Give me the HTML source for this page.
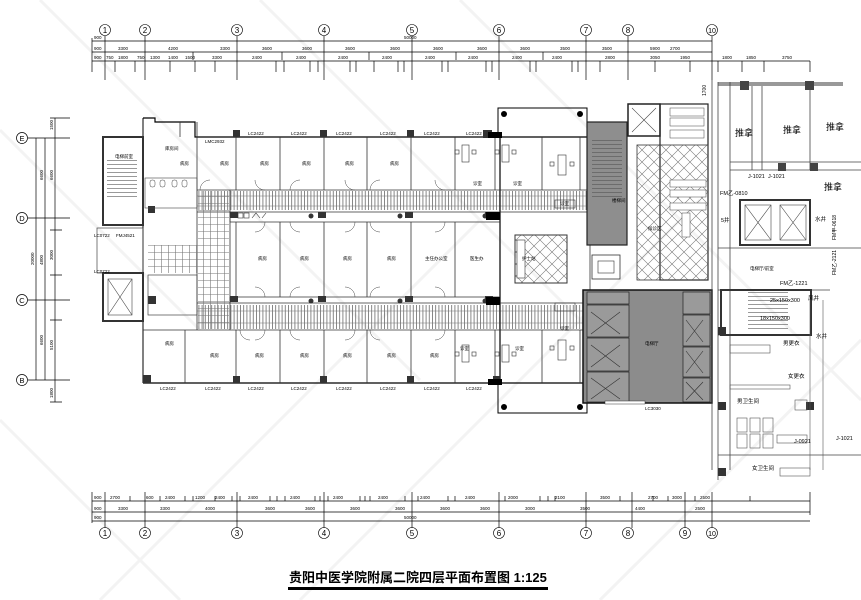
<!DOCTYPE html>
<html><head><meta charset="utf-8"><style>
html,body{margin:0;padding:0;background:#fff;}
svg{display:block;}
text{font-family:"Liberation Sans","Noto Sans CJK SC",sans-serif;}
</style></head><body>
<svg width="861" height="600" viewBox="0 0 861 600" xmlns="http://www.w3.org/2000/svg">
<defs>
<pattern id="cor" width="3.2" height="30" patternUnits="userSpaceOnUse"><line x1="0.5" y1="0" x2="0.5" y2="30" stroke="#555" stroke-width="0.7"/></pattern>
<pattern id="grid" width="7" height="7" patternUnits="userSpaceOnUse"><path d="M0 0.5H7M0.5 0V7" stroke="#777" stroke-width="0.6" fill="none"/></pattern>
<pattern id="dia" width="12" height="12" patternUnits="userSpaceOnUse"><path d="M0 0L12 12M12 0L0 12" stroke="#777" stroke-width="0.6" fill="none"/></pattern>
<pattern id="stair" width="10" height="4" patternUnits="userSpaceOnUse"><line x1="0" y1="0.5" x2="10" y2="0.5" stroke="#555" stroke-width="0.6"/></pattern>
</defs>

<g stroke="#f3f3f3" stroke-width="3" fill="none">
<path d="M0 130L200 330M40 0L420 380M260 0L620 360M460 0L861 400M0 420L180 600M300 600L700 200M600 600L861 340M100 600L480 220"/>
</g>

<!-- ===== top dimension lines ===== -->
<g stroke="#000" stroke-width="0.7" fill="none">
<line x1="92" y1="41" x2="712" y2="41"/>
<line x1="92" y1="52" x2="712" y2="52"/>
<line x1="92" y1="61" x2="712" y2="61"/>
<line x1="712" y1="61" x2="810" y2="61"/>
<path d="M105 36V80M145 36V80M237 36V80M324 36V80M412 36V80M499 36V80M586 36V80M628 36V80M712 36V80M92 38V72"/>
<path d="M115 61V72M135 61V72M170 61V72M195 61V72M215 61V72M276 61V72M284 61V72M310 61V72M318 61V72M350 61V72M356 61V72M374 61V72M398 61V72M404 61V72M442 61V72M448 61V72M486 61V72M492 61V72M530 61V72M536 61V72M572 61V72M578 61V72M600 61V72M655 61V72M690 61V72M718 61V72M742 61V72M764 61V72M810 61V72"/>
<path d="M193 52V60M282 52V60M369 52V60M456 52V60M543 52V60"/>
</g>
<g font-size="4.5" fill="#000">
<text x="94" y="39">900</text><text x="404" y="39">50000</text>
<text x="94" y="50">900</text><text x="118" y="50">3300</text><text x="168" y="50">4200</text><text x="220" y="50">3300</text><text x="262" y="50">3600</text><text x="302" y="50">3600</text><text x="345" y="50">3600</text><text x="390" y="50">3600</text><text x="433" y="50">3600</text><text x="477" y="50">3600</text><text x="520" y="50">3600</text><text x="560" y="50">3500</text><text x="602" y="50">3500</text><text x="650" y="50">5900</text><text x="670" y="50">2700</text>
<text x="94" y="59">900</text><text x="106" y="59">750</text><text x="118" y="59">1800</text><text x="137" y="59">750</text><text x="150" y="59">1300</text><text x="168" y="59">1400</text><text x="185" y="59">1500</text><text x="212" y="59">3300</text><text x="252" y="59">2400</text><text x="296" y="59">2400</text><text x="338" y="59">2400</text><text x="382" y="59">2400</text><text x="425" y="59">2400</text><text x="468" y="59">2400</text><text x="512" y="59">2400</text><text x="552" y="59">2400</text><text x="605" y="59">2800</text><text x="650" y="59">3050</text><text x="680" y="59">1950</text>
<text x="722" y="59">1800</text><text x="746" y="59">1850</text><text x="782" y="59">3750</text>
</g>
<g fill="none" stroke="#000" stroke-width="0.6"><circle cx="105" cy="30" r="5.5"/><circle cx="145" cy="30" r="5.5"/><circle cx="237" cy="30" r="5.5"/><circle cx="324" cy="30" r="5.5"/><circle cx="412" cy="30" r="5.5"/><circle cx="499" cy="30" r="5.5"/><circle cx="586" cy="30" r="5.5"/><circle cx="628" cy="30" r="5.5"/><circle cx="712" cy="30" r="5.5"/></g>
<g font-size="8" fill="#000" text-anchor="middle">
<text x="105" y="33">1</text><text x="145" y="33">2</text><text x="237" y="33">3</text><text x="324" y="33">4</text><text x="412" y="33">5</text><text x="499" y="33">6</text><text x="586" y="33">7</text><text x="628" y="33">8</text><text x="712" y="33" font-size="7">10</text>
</g>

<!-- ===== left dimension ===== -->
<g stroke="#000" stroke-width="0.7" fill="none">
<line x1="36" y1="138" x2="36" y2="380"/><line x1="45" y1="138" x2="45" y2="380"/><line x1="55" y1="118" x2="55" y2="402"/>
<path d="M28 138H70M28 218H70M28 300H70M28 380H70M50 118H70M50 230H62M50 275H62M50 320H62M50 402H62"/>
<circle cx="22" cy="138" r="5.5"/><circle cx="22" cy="218" r="5.5"/><circle cx="22" cy="300" r="5.5"/><circle cx="22" cy="380" r="5.5"/>
</g>
<g font-size="7.5" text-anchor="middle"><text x="22" y="141">E</text><text x="22" y="221">D</text><text x="22" y="303">C</text><text x="22" y="383">B</text></g>
<g font-size="4.5">
<text transform="translate(43,180) rotate(-90)">6600</text><text transform="translate(53,180) rotate(-90)">6600</text>
<text transform="translate(34,265) rotate(-90)">20000</text><text transform="translate(43,265) rotate(-90)">4800</text><text transform="translate(53,260) rotate(-90)">3000</text>
<text transform="translate(43,345) rotate(-90)">6600</text><text transform="translate(53,350) rotate(-90)">5100</text>
<text transform="translate(53,130) rotate(-90)">1500</text><text transform="translate(53,398) rotate(-90)">1800</text>
</g>

<!-- ===== main building ===== -->
<rect x="498" y="108" width="89" height="29" fill="none" stroke="#000" stroke-width="1"/>
<rect x="498" y="383" width="89" height="30" fill="none" stroke="#000" stroke-width="1"/>
<g fill="#000"><circle cx="504" cy="114" r="3"/><circle cx="580" cy="114" r="3"/><circle cx="504" cy="407" r="3"/><circle cx="580" cy="407" r="3"/></g>

<g fill="none" stroke="#000">
<path d="M143 118H155V122H195V137H590" stroke-width="1.2"/>
<path d="M143 383H590" stroke-width="1.2"/>
<path d="M143 118V383" stroke-width="1"/>
</g>
<g fill="none" stroke="#333" stroke-width="0.8">
<line x1="197" y1="190" x2="590" y2="190"/>
<line x1="197" y1="212" x2="590" y2="212"/>
<line x1="230" y1="222" x2="500" y2="222"/>
<line x1="230" y1="297" x2="500" y2="297"/>
<line x1="197" y1="303" x2="590" y2="303"/>
<line x1="143" y1="330" x2="590" y2="330"/>
<path d="M197 137V190M236 137V190M280 137V190M324 137V190M367 137V190M411 137V190M455 137V190M495 137V190M542 137V190M580 137V190"/>
<path d="M236 222V297M280 222V297M324 222V297M367 222V297M411 222V297M455 222V297M500 222V297"/>
<path d="M185 330V383M236 330V383M280 330V383M324 330V383M367 330V383M411 330V383M455 330V383M495 330V383M542 330V383M580 330V383"/>
<path d="M230 190V330M197 190V330"/>
<path d="M197 122V137M180 122V137"/>
</g>
<rect x="197" y="191" width="393" height="19" fill="url(#cor)"/>
<line x1="197" y1="196" x2="590" y2="196" stroke="#777" stroke-width="0.5"/><line x1="197" y1="206" x2="590" y2="206" stroke="#777" stroke-width="0.5"/>
<rect x="197" y="305" width="393" height="24" fill="url(#cor)"/>
<line x1="197" y1="311" x2="590" y2="311" stroke="#777" stroke-width="0.5"/><line x1="197" y1="323" x2="590" y2="323" stroke="#777" stroke-width="0.5"/>
<rect x="198" y="191" width="31" height="138" fill="url(#grid)"/>
<rect x="148" y="245" width="50" height="28" fill="url(#grid)"/>
<g fill="none" stroke="#333" stroke-width="0.6">
<path d="M230 212V222M230 297V303M500 212V222M500 297V303"/>
<rect x="238" y="213" width="5" height="5"/><rect x="244" y="213" width="5" height="5"/><path d="M252 218l4 -5l4 5M262 218l4-5"/>
</g>
<g fill="#333">
<rect x="230" y="212" width="8" height="6"/><rect x="318" y="212" width="8" height="6"/><rect x="405" y="212" width="8" height="6"/><rect x="485" y="212" width="8" height="6"/>
<rect x="230" y="296" width="8" height="6"/><rect x="318" y="296" width="8" height="6"/><rect x="405" y="296" width="8" height="6"/><rect x="485" y="296" width="8" height="6"/>
<circle cx="311" cy="216" r="2.5"/><circle cx="400" cy="216" r="2.5"/><circle cx="485" cy="216" r="2.5"/><circle cx="311" cy="301" r="2.5"/><circle cx="400" cy="301" r="2.5"/><circle cx="485" cy="301" r="2.5"/>
<rect x="233" y="130" width="7" height="7"/><rect x="320" y="130" width="7" height="7"/><rect x="407" y="130" width="7" height="7"/><rect x="483" y="130" width="9" height="8"/>
<rect x="143" y="375" width="8" height="8"/><rect x="233" y="376" width="7" height="7"/><rect x="320" y="376" width="7" height="7"/><rect x="407" y="376" width="7" height="7"/><rect x="493" y="376" width="7" height="8"/>
<rect x="148" y="206" width="7" height="7"/><rect x="148" y="296" width="8" height="8"/>
</g>
<g fill="none" stroke="#444" stroke-width="0.5">
<path d="M200 190a10 10 0 0 1 10 -10M265 190a10 10 0 0 1 -10 -10M290 190a10 10 0 0 1 10 -10M355 190a10 10 0 0 1 -10 -10M370 190a10 10 0 0 1 10 -10M445 190a10 10 0 0 1 -10 -10"/>
<path d="M265 222a10 10 0 0 1 -10 10M290 222a10 10 0 0 0 10 10M355 222a10 10 0 0 1 -10 10M370 222a10 10 0 0 0 10 10M445 222a10 10 0 0 1 -10 10"/>
<path d="M265 297a10 10 0 0 0 -10 -10M290 297a10 10 0 0 1 10 -10M355 297a10 10 0 0 0 -10 -10M370 297a10 10 0 0 1 10 -10M445 297a10 10 0 0 0 -10 -10"/>
<path d="M240 330a10 10 0 0 0 10 10M265 330a10 10 0 0 1 -10 10M290 330a10 10 0 0 0 10 10M355 330a10 10 0 0 1 -10 10M370 330a10 10 0 0 0 10 10M445 330a10 10 0 0 1 -10 10"/>
</g>
<g fill="none" stroke="#333" stroke-width="0.6">
<rect x="462" y="145" width="7" height="17"/><rect x="502" y="145" width="7" height="17"/><rect x="558" y="155" width="8" height="20"/>
<rect x="462" y="345" width="7" height="17"/><rect x="502" y="345" width="7" height="17"/><rect x="558" y="340" width="8" height="20"/>
<rect x="455" y="150" width="4" height="4"/><rect x="472" y="150" width="4" height="4"/><rect x="495" y="150" width="4" height="4"/><rect x="512" y="150" width="4" height="4"/>
<rect x="455" y="352" width="4" height="4"/><rect x="472" y="352" width="4" height="4"/><rect x="495" y="352" width="4" height="4"/><rect x="512" y="352" width="4" height="4"/>
<rect x="550" y="162" width="4" height="4"/><rect x="570" y="162" width="4" height="4"/><rect x="550" y="346" width="4" height="4"/><rect x="570" y="346" width="4" height="4"/>
<rect x="555" y="200" width="20" height="8"/><rect x="555" y="303" width="20" height="8"/>
</g>
<rect x="515" y="235" width="52" height="48" fill="url(#dia)" stroke="#333" stroke-width="1"/>
<rect x="517" y="240" width="8" height="38" fill="#fff" stroke="#333" stroke-width="0.6"/>
<rect x="592" y="255" width="28" height="24" fill="none" stroke="#333" stroke-width="0.8"/>
<rect x="598" y="261" width="16" height="12" fill="none" stroke="#333" stroke-width="0.6"/>
<line x1="500" y1="137" x2="500" y2="383" stroke="#333" stroke-width="1.5"/>
<line x1="590" y1="137" x2="590" y2="383" stroke="#333" stroke-width="0.8"/>
<g fill="#000"><rect x="488" y="132" width="14" height="6"/><rect x="486" y="212" width="14" height="8"/><rect x="486" y="297" width="14" height="8"/><rect x="488" y="379" width="14" height="6"/></g>

<rect x="103" y="137" width="40" height="88" fill="none" stroke="#333" stroke-width="2"/>
<rect x="107" y="160" width="30" height="40" fill="url(#stair)"/>
<rect x="97" y="228" width="46" height="45" fill="none" stroke="#444" stroke-width="0.7"/>
<rect x="103" y="273" width="40" height="48" fill="none" stroke="#333" stroke-width="2"/>
<rect x="108" y="279" width="24" height="36" fill="none" stroke="#444" stroke-width="0.6"/>
<path d="M108 279L132 315M132 279L108 315" stroke="#444" stroke-width="0.6"/>
<rect x="145" y="178" width="52" height="30" fill="none" stroke="#444" stroke-width="0.6"/>
<g fill="none" stroke="#444" stroke-width="0.5"><rect x="150" y="180" width="5" height="7" rx="2"/><rect x="160" y="180" width="5" height="7" rx="2"/><rect x="172" y="180" width="5" height="7" rx="2"/><rect x="182" y="180" width="5" height="7" rx="2"/></g>
<rect x="148" y="275" width="49" height="40" fill="none" stroke="#444" stroke-width="0.7"/>

<rect x="587" y="122" width="40" height="123" fill="#8e8e8e" stroke="#222" stroke-width="1.2"/>
<rect x="592" y="140" width="30" height="60" fill="url(#stair)"/>
<rect x="628" y="104" width="32" height="32" fill="none" stroke="#222" stroke-width="1.5"/>
<path d="M632 108L656 132M656 108L632 132" stroke="#444" stroke-width="0.6"/>
<rect x="660" y="104" width="48" height="176" fill="none" stroke="#222" stroke-width="1.2"/>
<rect x="637" y="145" width="71" height="135" fill="url(#dia)" stroke="#333" stroke-width="0.8"/>
<g fill="#fff" stroke="#444" stroke-width="0.5">
<rect x="670" y="108" width="34" height="8"/><rect x="670" y="118" width="34" height="8"/><rect x="670" y="130" width="34" height="8"/>
<rect x="670" y="180" width="36" height="7"/><rect x="670" y="190" width="36" height="7"/><rect x="670" y="203" width="36" height="7"/>
<rect x="682" y="213" width="8" height="24"/>
</g>
<rect x="583" y="290" width="129" height="113" fill="#8a8a8a" stroke="#111" stroke-width="1.5"/>
<g fill="#9a9a9a" stroke="#222" stroke-width="0.7">
<rect x="587" y="292" width="42" height="12"/>
<rect x="587" y="305" width="42" height="32"/><rect x="587" y="338" width="42" height="33"/><rect x="587" y="372" width="42" height="30"/>
<rect x="683" y="292" width="27" height="22"/>
<rect x="683" y="315" width="27" height="31"/><rect x="683" y="347" width="27" height="30"/><rect x="683" y="378" width="27" height="24"/>
</g>
<g stroke="#333" stroke-width="0.6" fill="none">
<path d="M591 312L620 334M620 312L591 334M591 345L620 367M620 345L591 367M591 378L620 399M620 378L591 399"/>
<path d="M686 320L703 342M703 320L686 342M686 351L703 373M703 351L686 373M686 382L703 400M703 382L686 400"/>
</g>
<rect x="630" y="292" width="52" height="110" fill="#8c8c8c"/>
<rect x="605" y="401" width="40" height="3" fill="#fff" stroke="#333" stroke-width="0.5"/>

<rect x="718" y="82" width="125" height="4" fill="#999"/>
<g fill="none" stroke="#444" stroke-width="0.8">
<path d="M712 80V470M718 82V480M730 82V470"/>
<path d="M730 170H861M730 162H861M752 86V170M762 86V170M810 86V170"/>
<path d="M718 248H861M718 290H830M718 335H810M718 455H861"/>
</g>
<g fill="#444"><rect x="740" y="81" width="9" height="9"/><rect x="805" y="81" width="9" height="9"/><rect x="778" y="163" width="8" height="8"/><rect x="810" y="163" width="8" height="8"/></g>
<rect x="740" y="200" width="70" height="45" fill="none" stroke="#333" stroke-width="2"/>
<rect x="745" y="205" width="26" height="35" fill="none" stroke="#444" stroke-width="0.6"/><path d="M745 205L771 240M771 205L745 240" stroke="#444" stroke-width="0.6"/>
<rect x="780" y="205" width="26" height="35" fill="none" stroke="#444" stroke-width="0.6"/><path d="M780 205L806 240M806 205L780 240" stroke="#444" stroke-width="0.6"/>
<rect x="721" y="290" width="90" height="45" fill="none" stroke="#333" stroke-width="2"/>
<rect x="748" y="292" width="40" height="40" fill="url(#stair)"/>
<g fill="#333"><rect x="718" y="327" width="8" height="8"/><rect x="718" y="402" width="8" height="8"/><rect x="806" y="402" width="8" height="8"/><rect x="718" y="468" width="8" height="8"/></g>
<g fill="none" stroke="#555" stroke-width="0.6">
<rect x="730" y="345" width="40" height="8"/><rect x="730" y="385" width="60" height="4"/>
<rect x="737" y="418" width="10" height="14"/><rect x="750" y="418" width="10" height="14"/><rect x="763" y="418" width="10" height="14"/>
<rect x="737" y="434" width="10" height="14"/><rect x="750" y="434" width="10" height="14"/><rect x="763" y="434" width="10" height="14"/>
<rect x="777" y="435" width="30" height="8"/><rect x="780" y="468" width="30" height="8"/><rect x="795" y="400" width="12" height="10"/>
<line x1="810" y1="300" x2="810" y2="470"/><line x1="823" y1="300" x2="823" y2="470"/>
</g>
<g font-size="9" fill="#000">
<text x="735" y="136">推拿</text><text x="783" y="133">推拿</text><text x="826" y="130">推拿</text><text x="824" y="190">推拿</text>
</g>
<g font-size="5.5" fill="#000">
<text x="748" y="178">J-1021</text><text x="768" y="178">J-1021</text><text x="720" y="195">FM乙-0810</text>
<text x="721" y="222">5井</text><text x="815" y="221">水井</text><text x="780" y="285">FM乙-1221</text>
<text x="770" y="302">25x150x300</text><text x="760" y="320">18x150x300</text>
<text x="808" y="300">风井</text><text x="816" y="338">水井</text>
<text x="783" y="345">男更衣</text><text x="788" y="378">女更衣</text>
<text x="737" y="403">男卫生间</text><text x="752" y="470">女卫生间</text><text x="794" y="443">J-0921</text><text x="836" y="440">J-1021</text>
</g>
<g font-size="5" fill="#000">
<text transform="translate(836,240) rotate(-90)">FM甲-0618</text><text transform="translate(836,275) rotate(-90)">FM乙-2121</text>
<text transform="translate(706,96) rotate(-90)">1700</text>
</g>

<g font-size="4.5" fill="#000">
<text x="248" y="135">LC2422</text><text x="291" y="135">LC2422</text><text x="336" y="135">LC2422</text><text x="380" y="135">LC2422</text><text x="424" y="135">LC2422</text><text x="466" y="135">LC2422</text>
<text x="160" y="390">LC2422</text><text x="205" y="390">LC2422</text><text x="248" y="390">LC2422</text><text x="291" y="390">LC2422</text><text x="336" y="390">LC2422</text><text x="380" y="390">LC2422</text><text x="424" y="390">LC2422</text><text x="466" y="390">LC2422</text>
<text x="645" y="410">LC3030</text><text x="205" y="143">LMC2932</text>
<text x="94" y="237">LC0722</text><text x="94" y="273">LC0722</text><text x="116" y="237">FMJ4521</text>
<text x="115" y="158">电梯前室</text><text x="165" y="150">库房间</text>
<text x="612" y="202">楼梯间</text><text x="648" y="230">候诊区</text><text x="522" y="260">护士站</text><text x="645" y="345">电梯厅</text>
<text x="750" y="270">电梯厅/前室</text>
</g>
<g font-size="4.5" fill="#000">
<text x="180" y="165">病房</text><text x="220" y="165">病房</text><text x="260" y="165">病房</text><text x="302" y="165">病房</text><text x="345" y="165">病房</text><text x="390" y="165">病房</text>
<text x="258" y="260">病房</text><text x="300" y="260">病房</text><text x="343" y="260">病房</text><text x="387" y="260">病房</text><text x="425" y="260">主任办公室</text><text x="470" y="260">医生办</text>
<text x="165" y="345">病房</text><text x="210" y="357">病房</text><text x="255" y="357">病房</text><text x="300" y="357">病房</text><text x="343" y="357">病房</text><text x="387" y="357">病房</text><text x="430" y="357">病房</text>
<text x="473" y="185">诊室</text><text x="513" y="185">诊室</text><text x="560" y="205">诊室</text>
<text x="460" y="350">诊室</text><text x="515" y="350">诊室</text><text x="560" y="330">诊室</text>
</g>

<!-- ===== bottom dimensions ===== -->
<g stroke="#000" stroke-width="0.7" fill="none">
<line x1="92" y1="501" x2="810" y2="501"/><line x1="92" y1="512" x2="810" y2="512"/><line x1="92" y1="521" x2="810" y2="521"/>
<path d="M92 492V523M105 492V528M145 492V528M237 492V528M324 492V528M412 492V528M499 492V528M586 492V528M632 492V528M685 492V528M712 492V528M810 492V515"/>
<path d="M130 496V501M160 496V501M185 496V501M193 496V501M215 496V501M232 496V501M240 496V501M270 496V501M277 496V501M285 496V501M315 496V501M320 496V501M328 496V501M360 496V501M365 496V501M370 496V501M405 496V501M418 496V501M448 496V501M455 496V501M505 496V501M540 496V501M548 496V501M555 496V501M620 496V501M653 496V501M668 496V501M695 496V501M750 496V501"/>
</g>
<g font-size="4.5" fill="#000">
<text x="94" y="499">900</text><text x="110" y="499">2700</text><text x="146" y="499">600</text><text x="165" y="499">2400</text><text x="195" y="499">1200</text><text x="215" y="499">2400</text><text x="248" y="499">2400</text><text x="290" y="499">2400</text><text x="333" y="499">2400</text><text x="378" y="499">2400</text><text x="420" y="499">2400</text><text x="465" y="499">2400</text><text x="508" y="499">2000</text><text x="555" y="499">2100</text><text x="600" y="499">3500</text><text x="648" y="499">2700</text><text x="672" y="499">3000</text><text x="700" y="499">2500</text>
<text x="94" y="510">900</text><text x="118" y="510">3300</text><text x="160" y="510">3300</text><text x="205" y="510">4000</text><text x="265" y="510">3600</text><text x="305" y="510">3600</text><text x="350" y="510">3600</text><text x="395" y="510">3600</text><text x="440" y="510">3600</text><text x="480" y="510">3600</text><text x="525" y="510">3000</text><text x="580" y="510">3500</text><text x="635" y="510">4400</text><text x="695" y="510">2500</text>
<text x="94" y="519">900</text><text x="404" y="519">50000</text>
</g>
<g fill="none" stroke="#000" stroke-width="0.6">
<circle cx="105" cy="533" r="5.5"/><circle cx="145" cy="533" r="5.5"/><circle cx="237" cy="533" r="5.5"/><circle cx="324" cy="533" r="5.5"/><circle cx="412" cy="533" r="5.5"/><circle cx="499" cy="533" r="5.5"/><circle cx="586" cy="533" r="5.5"/><circle cx="628" cy="533" r="5.5"/><circle cx="685" cy="533" r="5.5"/><circle cx="712" cy="533" r="5.5"/>
</g>
<g font-size="8" fill="#000" text-anchor="middle">
<text x="105" y="536">1</text><text x="145" y="536">2</text><text x="237" y="536">3</text><text x="324" y="536">4</text><text x="412" y="536">5</text><text x="499" y="536">6</text><text x="586" y="536">7</text><text x="628" y="536">8</text><text x="685" y="536">9</text><text x="712" y="536" font-size="7">10</text>
</g>

<text x="289" y="582" font-size="13" font-weight="bold" fill="#000">贵阳中医学院附属二院四层平面布置图  1:125</text>
<rect x="288" y="587" width="260" height="3" fill="#000"/>
</svg>
</body></html>
